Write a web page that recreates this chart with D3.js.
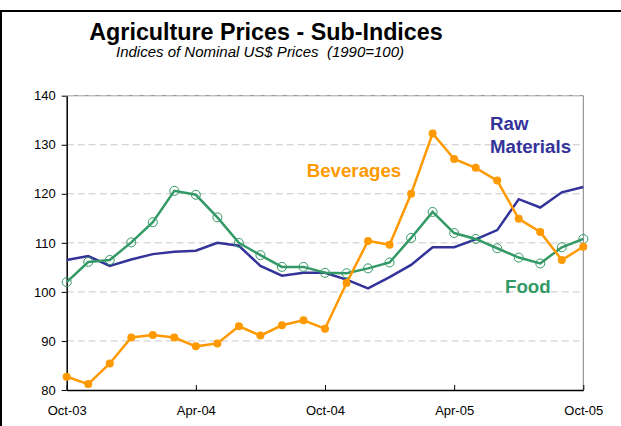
<!DOCTYPE html>
<html>
<head>
<meta charset="utf-8">
<script src="https://cdn.jsdelivr.net/npm/d3@7"></script>
<style>
  body { margin: 0; background: #fff; }
  text { font-family: Arial, "Liberation Sans", sans-serif; }
</style>
</head>
<body>
<div id="chart"></div>
<script>
// chart data

var months = ["Oct-03", "Nov-03", "Dec-03", "Jan-04", "Feb-04", "Mar-04", "Apr-04", "May-04", "Jun-04",
  "Jul-04", "Aug-04", "Sep-04", "Oct-04", "Nov-04", "Dec-04", "Jan-05", "Feb-05", "Mar-05", "Apr-05",
  "May-05", "Jun-05", "Jul-05", "Aug-05", "Sep-05", "Oct-05"];

var beverages = [82.7, 81.2, 85.4, 90.7, 91.2, 90.7, 88.9, 89.5, 93.0, 91.1, 93.2, 94.2, 92.5,
  101.8, 110.4, 109.6, 120.0, 132.3, 127.1, 125.3, 122.7, 114.9, 112.2, 106.5, 109.2];

var food = [102.0, 106.1, 106.5, 110.1, 114.2, 120.6, 119.8, 115.2, 110.0, 107.5, 105.1, 105.1, 103.9,
  103.8, 104.8, 106.0, 111.0, 116.3, 112.0, 110.8, 108.9, 107.0, 105.8, 109.1, 110.8];

var rawMaterials = [106.5, 107.3, 105.3, 106.6, 107.7, 108.2, 108.4, 110.0, 109.4, 105.3, 103.3, 103.9, 103.9,
  102.5, 100.7, 103.0, 105.5, 109.1, 109.1, 110.7, 112.6, 118.9, 117.2, 120.3, 121.4];

var xTickLabels = ["Oct-03", "Apr-04", "Oct-04", "Apr-05", "Oct-05"];
var yTicks = [80, 90, 100, 110, 120, 130, 140];

var width = 621,
  height = 426;

var plotLeft = 66.7, plotRight = 583.3, plotTop = 95.7, plotBottom = 390;

var svg = d3.select("#chart").append("svg")
    .attr("width", width)
    .attr("height", height);

// outer frame (only top and left edges show in the picture)
svg.append("rect")
    .attr("x", 1)
    .attr("y", 11)
    .attr("width", 700)
    .attr("height", 500)
    .attr("fill", "none")
    .attr("stroke", "#000")
    .attr("stroke-width", 2);

var x = d3.scalePoint()
    .domain(months)
    .range([plotLeft, plotRight]);

var y = d3.scaleLinear()
    .domain([80, 140])
    .range([plotBottom, plotTop]);

// titles
svg.append("text")
    .attr("x", 266)
    .attr("y", 40)
    .attr("text-anchor", "middle")
    .style("font-size", "23.3px")
    .style("font-weight", "bold")
    .text("Agriculture Prices - Sub-Indices");

svg.append("text")
    .attr("x", 260)
    .attr("y", 57.3)
    .attr("text-anchor", "middle")
    .style("font-size", "15px")
    .style("font-style", "italic")
    .style("white-space", "pre")
    .text("Indices of Nominal US$ Prices  (1990=100)");

// plot border right + top
svg.append("path")
    .attr("d", "M" + plotLeft + "," + plotTop + "H" + plotRight + "V" + plotBottom)
    .attr("fill", "none")
    .attr("stroke", "#808080")
    .attr("stroke-width", 1);

// gridlines
svg.append("g")
    .selectAll("line")
    .data(yTicks.filter(function(d) { return d > 80; }))
    .enter().append("line")
    .attr("x1", plotLeft)
    .attr("x2", plotRight)
    .attr("y1", function(d) { return y(d); })
    .attr("y2", function(d) { return y(d); })
    .attr("stroke", "#c8c8c8")
    .attr("stroke-width", 1)
    .attr("stroke-dasharray", "7,4");

// y axis
var yAxis = svg.append("g")
    .attr("transform", "translate(" + plotLeft + ",0)")
    .call(d3.axisLeft(y).tickValues(yTicks).tickSize(5).tickPadding(6).tickSizeOuter(0));
yAxis.select(".domain").attr("stroke", "#000").attr("stroke-width", 1.5);
yAxis.selectAll("text").style("font-size", "13px").attr("fill", "#000");

// x axis
var xAxis = svg.append("g")
    .attr("transform", "translate(0," + plotBottom + ")")
    .call(d3.axisBottom(x).tickValues(xTickLabels).tickSize(-5).tickPadding(0).tickSizeOuter(0));
xAxis.select(".domain").attr("stroke", "#000").attr("stroke-width", 1.5);
xAxis.selectAll("text").attr("y", 16).style("font-size", "13px").attr("fill", "#000");

// series
var line = d3.line()
    .x(function(d, i) { return x(months[i]); })
    .y(function(d) { return y(d); });

svg.append("path")
    .datum(rawMaterials)
    .attr("d", line)
    .attr("fill", "none")
    .attr("stroke", "#333399")
    .attr("stroke-width", 2.5);

svg.append("path")
    .datum(food)
    .attr("d", line)
    .attr("fill", "none")
    .attr("stroke", "#339966")
    .attr("stroke-width", 2.5);

svg.append("g")
    .selectAll("circle")
    .data(food)
    .enter().append("circle")
    .attr("cx", function(d, i) { return x(months[i]); })
    .attr("cy", function(d) { return y(d); })
    .attr("r", 4.5)
    .attr("fill", "none")
    .attr("stroke", "#339966")
    .attr("stroke-width", 1);

svg.append("path")
    .datum(beverages)
    .attr("d", line)
    .attr("fill", "none")
    .attr("stroke", "#ff9900")
    .attr("stroke-width", 2.5);

svg.append("g")
    .selectAll("circle")
    .data(beverages)
    .enter().append("circle")
    .attr("cx", function(d, i) { return x(months[i]); })
    .attr("cy", function(d) { return y(d); })
    .attr("r", 4)
    .attr("fill", "#ff9900");

// series labels
var labels = [
  {text: "Raw", x: 490, y: 130, color: "#333399"},
  {text: "Materials", x: 490, y: 153.3, color: "#333399"},
  {text: "Beverages", x: 306.7, y: 177.3, color: "#ff9900"},
  {text: "Food", x: 505, y: 292.7, color: "#339966"}
];

svg.selectAll("text.label")
    .data(labels)
    .enter().append("text")
    .attr("class", "label")
    .attr("x", function(d) { return d.x; })
    .attr("y", function(d) { return d.y; })
    .attr("fill", function(d) { return d.color; })
    .style("font-size", "18.7px")
    .style("font-weight", "bold")
    .text(function(d) { return d.text; });
</script>
</body>
</html>
